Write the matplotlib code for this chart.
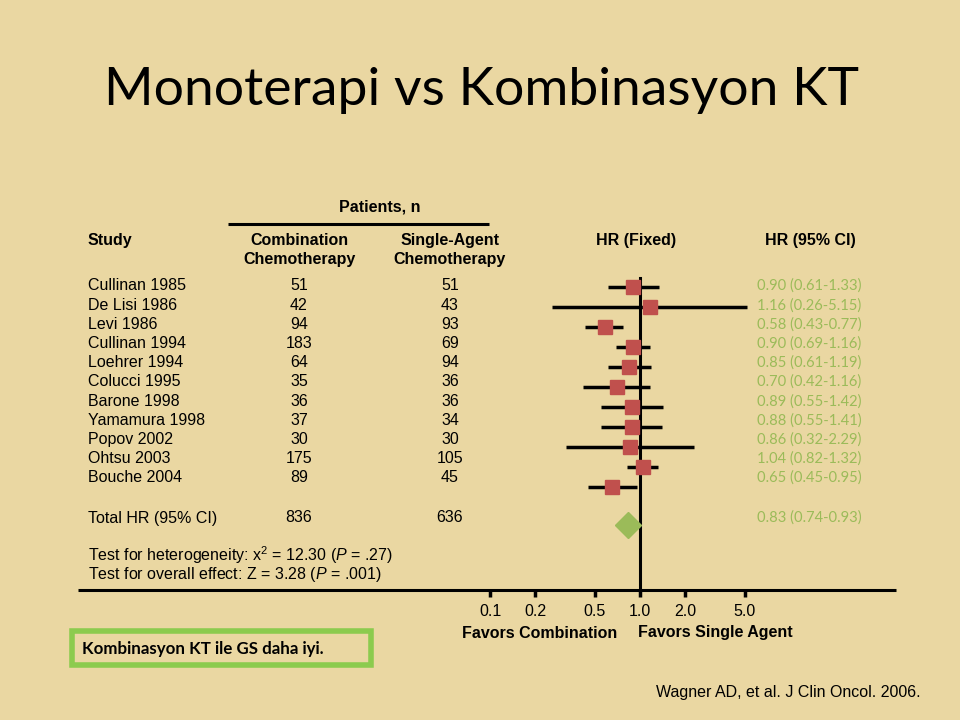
import numpy as np
import matplotlib
matplotlib.use("Agg")
import matplotlib.pyplot as plt
from matplotlib.patches import Rectangle

plt.rcParams["mathtext.fontset"] = "custom"
plt.rcParams["mathtext.rm"] = "Liberation Sans"
plt.rcParams["mathtext.it"] = "Liberation Sans:italic"

# data
studies = ["Cullinan 1985", "De Lisi 1986", "Levi 1986", "Cullinan 1994", "Loehrer 1994",
           "Colucci 1995", "Barone 1998", "Yamamura 1998", "Popov 2002", "Ohtsu 2003", "Bouche 2004"]
n_combo = [51, 42, 94, 183, 64, 35, 36, 37, 30, 175, 89]
n_single = [51, 43, 93, 69, 94, 36, 36, 34, 30, 105, 45]
hr = [0.90, 1.16, 0.58, 0.90, 0.85, 0.70, 0.89, 0.88, 0.86, 1.04, 0.65]
hr_lo = [0.61, 0.26, 0.43, 0.69, 0.61, 0.42, 0.55, 0.55, 0.32, 0.82, 0.45]
hr_hi = [1.33, 5.15, 0.77, 1.16, 1.19, 1.16, 1.42, 1.41, 2.29, 1.32, 0.95]
total_combo, total_single = 836, 636
total_hr, total_lo, total_hi = 0.83, 0.74, 0.93
ticks = [0.1, 0.2, 0.5, 1.0, 2.0, 5.0]
tick_labels = ["0.1", "0.2", "0.5", "1.0", "2.0", "5.0"]

BG = "#EAD7A2"
RED = "#C0504D"
GREEN_TXT = "#9BBB59"
GREEN_BOX = "#8CCB4E"
SANS = "Liberation Sans"
CAL = "Lato"
FS = 11.5

W, H = 960, 720
fig = plt.figure(figsize=(9.6, 7.2), dpi=100, facecolor=BG)
ov = fig.add_axes([0, 0, 1, 1])
ov.set_xlim(0, W)
ov.set_ylim(H, 0)
ov.axis("off")

ov.text(481, 90, "Monoterapi vs Kombinasyon KT", fontsize=38.5, family=CAL,
        ha="center", va="center", color="black")

# table header
ov.text(380, 207, "Patients, n", fontsize=FS, family=SANS, weight="bold", ha="center", va="center")
ov.plot([228, 489], [224, 224], color="black", lw=2.2, solid_capstyle="butt")
hdr = dict(fontsize=FS, family=SANS, weight="bold", va="center", linespacing=1.4)
ov.text(88, 240, "Study", ha="left", **hdr)
ov.text(299, 250, "Combination\nChemotherapy", ha="center", **hdr)
ov.text(450, 250, "Single-Agent\nChemotherapy", ha="center", **hdr)
ov.text(636, 240, "HR (Fixed)", ha="center", **hdr)
ov.text(810, 240, "HR (95% CI)", ha="center", **hdr)

row_y0, row_h = 286, 19.2
cell = dict(fontsize=FS, family=SANS, va="center")
for i, name in enumerate(studies):
    y = row_y0 + i * row_h
    ov.text(88, y, name, ha="left", **cell)
    ov.text(299, y, str(n_combo[i]), ha="center", **cell)
    ov.text(450, y, str(n_single[i]), ha="center", **cell)
    ov.text(757, y, f"{hr[i]:.2f} ({hr_lo[i]:.2f}-{hr_hi[i]:.2f})", ha="left",
            fontsize=10.6, family=CAL, color=GREEN_TXT, va="center")

ov.text(88, 518, "Total HR (95% CI)", ha="left", **cell)
ov.text(299, 518, str(total_combo), ha="center", **cell)
ov.text(450, 518, str(total_single), ha="center", **cell)
ov.text(757, 518, f"{total_hr:.2f} ({total_lo:.2f}-{total_hi:.2f})", ha="left",
        fontsize=10.6, family=CAL, color=GREEN_TXT, va="center")

ov.text(88, 555, r"Test for heterogeneity: x$^2$ = 12.30 ($\mathit{P}$ = .27)", ha="left", **cell)
ov.text(88, 574, r"Test for overall effect: Z = 3.28 ($\mathit{P}$ = .001)", ha="left", **cell)
ov.plot([78, 896], [590, 590], color="black", lw=2.2, solid_capstyle="butt")

ov.text(540, 633, "Favors Combination", fontsize=FS, family=SANS, weight="bold", ha="center", va="center")
ov.text(715, 633, "Favors Single Agent", fontsize=FS, family=SANS, weight="bold", ha="center", va="center")

ov.add_patch(Rectangle((72, 631), 299, 34, facecolor="none", edgecolor=GREEN_BOX, lw=4))
ov.text(82, 649, "Kombinasyon KT ile GS daha iyi.", fontsize=12.2, family=CAL, weight="bold",
        ha="left", va="center")
ov.text(788, 693, "Wagner AD, et al. J Clin Oncol. 2006.", fontsize=FS, family=SANS,
        ha="center", va="center")

# forest plot on a log scale, 1.0 at x=640 px, 150 px per decade
left_px, right_px, top_px, bot_px = 490, 790, 275, 590
fx = fig.add_axes([left_px / W, 1 - bot_px / H, (right_px - left_px) / W, (bot_px - top_px) / H])
fx.set_xscale("log")
fx.set_xlim(0.1, 10)
fx.set_ylim(bot_px, top_px)
fx.patch.set_alpha(0)
for s in fx.spines.values():
    s.set_visible(False)
fx.set_yticks([])
fx.set_xticks(ticks)
fx.set_xticklabels(tick_labels, fontsize=FS, family=SANS)
fx.minorticks_off()
fx.tick_params(axis="x", direction="out", length=5, width=2.5, pad=5)

fx.axvline(1.0, ymin=0, ymax=(bot_px - 278) / (bot_px - top_px), color="black", lw=2.2)

mark_y0, mark_h = 287, 20
for i in range(len(studies)):
    y = mark_y0 + i * mark_h
    fx.plot([hr_lo[i], hr_hi[i]], [y, y], color="black", lw=2.5, solid_capstyle="butt", zorder=2)
    fx.plot(hr[i], y, marker="s", markersize=9.5, color=RED, mec=RED, zorder=3)
fx.plot(total_hr, 525, marker="D", markersize=13.5, color=GREEN_TXT, mec=GREEN_TXT, zorder=3)

fig.savefig("out.png", dpi=100, facecolor=BG)
